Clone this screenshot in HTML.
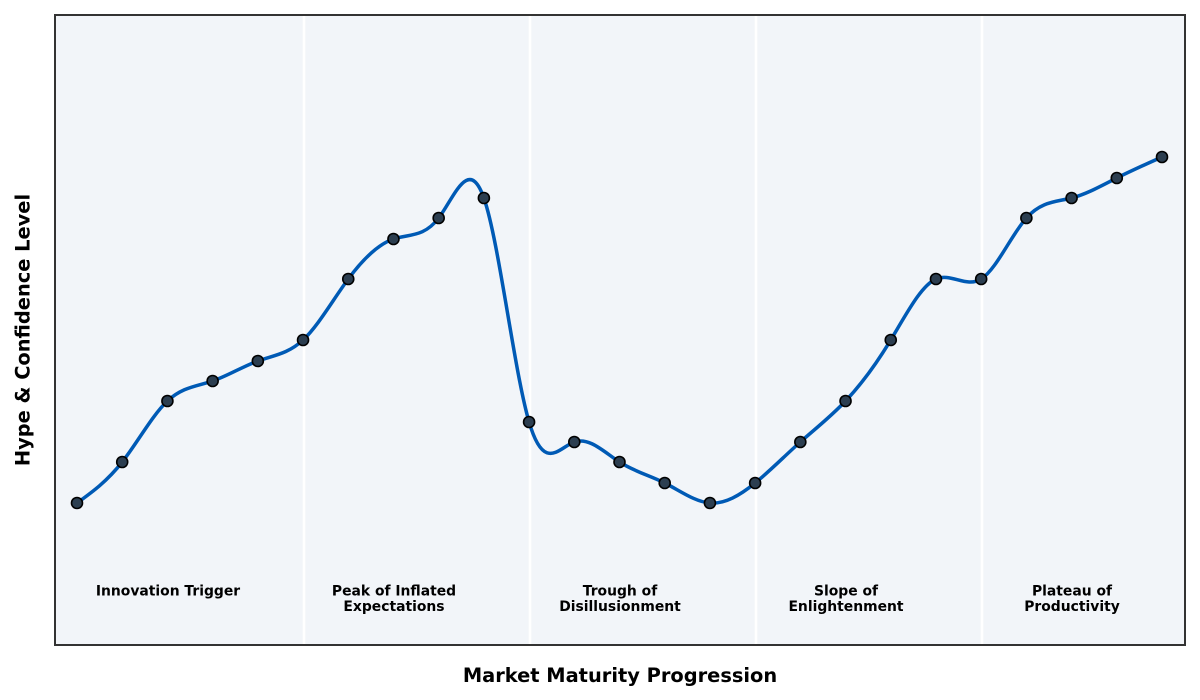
<!DOCTYPE html>
<html>
<head>
<meta charset="utf-8">
<style>
html,body{margin:0;padding:0;background:#fff;}
svg{display:block;}
text{font-family:"DejaVu Sans","Liberation Sans",sans-serif;font-weight:bold;fill:#000;}
</style>
</head>
<body>
<svg width="1200" height="700" viewBox="0 0 1200 700" xmlns="http://www.w3.org/2000/svg">
<rect x="0" y="0" width="1200" height="700" fill="#ffffff"/>
<rect x="55" y="15" width="1130" height="630" fill="#f2f5f9"/>
<g stroke="#ffffff" stroke-width="2.5">
<line x1="304" y1="15" x2="304" y2="645"/>
<line x1="530" y1="15" x2="530" y2="645"/>
<line x1="756" y1="15" x2="756" y2="645"/>
<line x1="982" y1="15" x2="982" y2="645"/>
</g>
<path fill="none" stroke="#005ab5" stroke-width="3.5" stroke-linecap="round" stroke-linejoin="round" d="M77,503 C92.07,492.17 107.14,481.23 122.21,462 C137.28,442.77 152.35,415.18 167.42,401 C182.49,386.82 197.56,386.13 212.63,381 C227.70,375.87 242.76,366.43 257.83,361 C272.90,355.57 287.97,354.07 303.04,340 C318.11,325.93 333.18,299.37 348.25,279 C363.32,258.63 378.39,244.17 393.46,239 C408.53,233.83 423.60,237.77 438.67,218 C453.74,198.23 468.81,154.93 483.88,198 C498.95,241.07 514.01,370.43 529.08,422 C544.15,473.57 559.22,447.30 574.29,442 C589.36,436.70 604.43,452.33 619.5,462 C634.57,471.67 649.64,475.43 664.71,483 C679.78,490.57 694.85,501.83 709.92,503 C724.99,504.17 740.06,495.25 755.13,483 C770.20,470.75 785.26,455.37 800.33,442 C815.40,428.63 830.47,416.97 845.54,401 C860.61,385.03 875.68,364.87 890.75,340 C905.82,315.13 920.89,285.63 935.96,279 C951.03,272.37 966.10,288.40 981.17,279 C996.24,269.60 1011.31,234.90 1026.38,218 C1041.45,201.10 1056.51,201.88 1071.58,198 C1086.65,194.12 1101.72,185.60 1116.79,178 C1131.86,170.40 1146.93,163.70 1162,157"/>
<g fill="#2c3e50" stroke="#000000" stroke-width="1.6">
<circle cx="77" cy="503" r="5.5"/>
<circle cx="122.21" cy="462" r="5.5"/>
<circle cx="167.42" cy="401" r="5.5"/>
<circle cx="212.63" cy="381" r="5.5"/>
<circle cx="257.83" cy="361" r="5.5"/>
<circle cx="303.04" cy="340" r="5.5"/>
<circle cx="348.25" cy="279" r="5.5"/>
<circle cx="393.46" cy="239" r="5.5"/>
<circle cx="438.67" cy="218" r="5.5"/>
<circle cx="483.88" cy="198" r="5.5"/>
<circle cx="529.08" cy="422" r="5.5"/>
<circle cx="574.29" cy="442" r="5.5"/>
<circle cx="619.5" cy="462" r="5.5"/>
<circle cx="664.71" cy="483" r="5.5"/>
<circle cx="709.92" cy="503" r="5.5"/>
<circle cx="755.13" cy="483" r="5.5"/>
<circle cx="800.33" cy="442" r="5.5"/>
<circle cx="845.54" cy="401" r="5.5"/>
<circle cx="890.75" cy="340" r="5.5"/>
<circle cx="935.96" cy="279" r="5.5"/>
<circle cx="981.17" cy="279" r="5.5"/>
<circle cx="1026.38" cy="218" r="5.5"/>
<circle cx="1071.58" cy="198" r="5.5"/>
<circle cx="1116.79" cy="178" r="5.5"/>
<circle cx="1162" cy="157" r="5.5"/>
</g>
<g font-size="13.9" text-anchor="middle">
<text x="168" y="595.5">Innovation Trigger</text>
<text x="394" y="595.5">Peak of Inflated</text>
<text x="394" y="611">Expectations</text>
<text x="620" y="595.5">Trough of</text>
<text x="620" y="611">Disillusionment</text>
<text x="846" y="595.5">Slope of</text>
<text x="846" y="611">Enlightenment</text>
<text x="1072" y="595.5">Plateau of</text>
<text x="1072" y="611">Productivity</text>
</g>
<rect x="55" y="15" width="1130" height="630" fill="none" stroke="#333333" stroke-width="2"/>
<text x="620" y="682" font-size="19.4" text-anchor="middle">Market Maturity Progression</text>
<text transform="translate(29.5,330) rotate(-90)" x="0" y="0" font-size="19.4" text-anchor="middle">Hype &amp; Confidence Level</text>
</svg>
</body>
</html>
